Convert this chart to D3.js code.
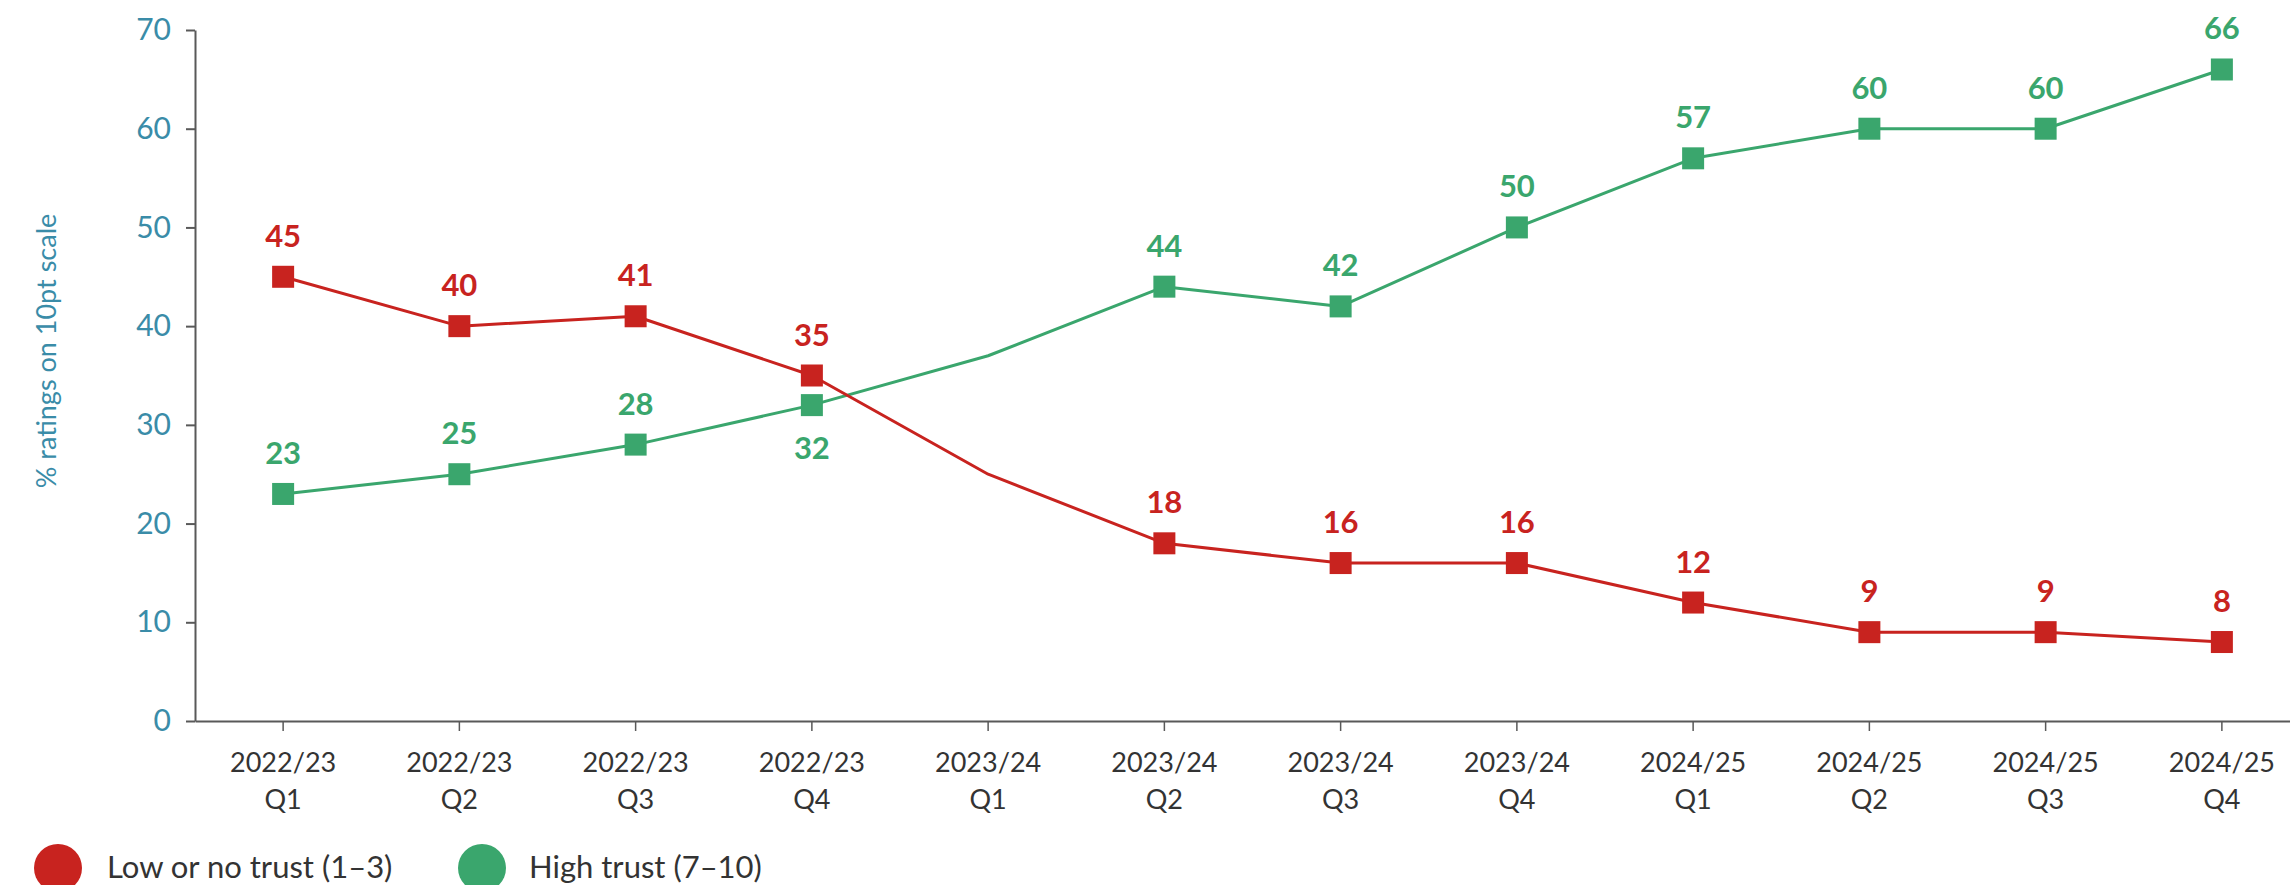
<!DOCTYPE html>
<html>
<head>
<meta charset="utf-8">
<script src="https://cdn.jsdelivr.net/npm/d3@7"></script>
<style>
  html, body { margin: 0; padding: 0; background: #fff; }
  svg { display: block; }
  text { font-family: Lato, "Open Sans", "DejaVu Sans", sans-serif; }
</style>
</head>
<body>
<svg id="chart" width="2290" height="885"></svg>
<script>
// Quarterly periods (financial year / quarter)
const years = ["2022/23","2022/23","2022/23","2022/23","2023/24","2023/24","2023/24","2023/24","2024/25","2024/25","2024/25","2024/25"];
const quarters = ["Q1","Q2","Q3","Q4","Q1","Q2","Q3","Q4","Q1","Q2","Q3","Q4"];

// % ratings on the 10-point scale
const lowTrust  = [45, 40, 41, 35, 25, 18, 16, 16, 12, 9, 9, 8];
const highTrust = [23, 25, 28, 32, 37, 44, 42, 50, 57, 60, 60, 66];

// Quarters drawn with a marker and value label (2023/24 Q1 has neither)
const marked = [true, true, true, true, false, true, true, true, true, true, true, true];

// Where each high-trust label sits relative to its marker
const highLabelSide = ["above","above","above","below","above","above","above","above","above","above","above","above"];

const yTicks = [0, 10, 20, 30, 40, 50, 60, 70];
const seriesNames = ["Low or no trust (1–3)", "High trust (7–10)"];

const RED = "#c8231f";
const GREEN = "#3aa66d";
const TEAL = "#3a8ca8";
const AXIS = "#595959";

const svg = d3.select("#chart");
const categories = years.map((y, i) => i);

const x = d3.scaleBand().domain(categories).range([195, 195 + 176.25 * 12]).padding(0);
const cx = i => x(i) + x.bandwidth() / 2;
const y = d3.scaleLinear().domain([0, 70]).range([721, 30]);

// Y axis
const yAxis = svg.append("g")
  .attr("transform", "translate(195,0)")
  .call(d3.axisLeft(y).tickValues(yTicks).tickSize(9).tickSizeOuter(0).tickPadding(15));
yAxis.select(".domain").attr("stroke", AXIS).attr("stroke-width", 2);
yAxis.selectAll(".tick line").attr("stroke", AXIS).attr("stroke-width", 2);
yAxis.selectAll(".tick text")
  .attr("fill", TEAL)
  .style("font-size", "30px")
  .style("font-weight", 400);

// X axis
const xAxis = svg.append("g")
  .attr("transform", "translate(0,721)")
  .call(d3.axisBottom(x).tickSize(10).tickSizeOuter(0).tickFormat(() => ""));
xAxis.select(".domain").attr("stroke", AXIS).attr("stroke-width", 2);
xAxis.selectAll(".tick line").attr("stroke", AXIS).attr("stroke-width", 1.5);
xAxis.selectAll(".tick text").remove();
xAxis.selectAll(".tick").each(function(d) {
  const t = d3.select(this).append("text")
    .attr("fill", "#333")
    .attr("text-anchor", "middle")
    .style("font-size", "27px")
    .style("font-weight", 400);
  t.append("tspan").attr("x", 0).attr("y", 51).text(years[d]);
  t.append("tspan").attr("x", 0).attr("y", 88).text(quarters[d]);
});

// Y axis title
svg.append("text")
  .attr("transform", "translate(56,351) rotate(-90)")
  .attr("text-anchor", "middle")
  .attr("fill", TEAL)
  .style("font-size", "27px")
  .style("font-weight", 400)
  .text("% ratings on 10pt scale");

const line = d3.line().x((d, i) => cx(i)).y(d => y(d));

function drawSeries(values, color, labelSide) {
  svg.append("path")
    .datum(values)
    .attr("fill", "none")
    .attr("stroke", color)
    .attr("stroke-width", 3)
    .attr("stroke-linejoin", "round")
    .attr("d", line);

  const pts = values.map((v, i) => ({ v, i })).filter(d => marked[d.i]);

  svg.append("g").selectAll("rect")
    .data(pts)
    .join("rect")
    .attr("x", d => cx(d.i) - 11)
    .attr("y", d => y(d.v) - 11)
    .attr("width", 22)
    .attr("height", 22)
    .attr("fill", color);

  svg.append("g").selectAll("text")
    .data(pts)
    .join("text")
    .attr("x", d => cx(d.i))
    .attr("y", d => labelSide(d.i) === "below" ? y(d.v) + 54 : y(d.v) - 30)
    .attr("text-anchor", "middle")
    .attr("fill", color)
    .style("font-size", "31px")
    .style("font-weight", 700)
    .text(d => d.v);
}

drawSeries(highTrust, GREEN, i => highLabelSide[i]);
drawSeries(lowTrust, RED, () => "above");

// Legend
const legendItems = [
  { name: seriesNames[0], color: RED, cx: 58, tx: 107 },
  { name: seriesNames[1], color: GREEN, cx: 482, tx: 529 }
];
const lg = svg.append("g");
lg.selectAll("circle")
  .data(legendItems)
  .join("circle")
  .attr("cx", d => d.cx)
  .attr("cy", 868)
  .attr("r", 24)
  .attr("fill", d => d.color);
lg.selectAll("text")
  .data(legendItems)
  .join("text")
  .attr("x", d => d.tx)
  .attr("y", 878)
  .attr("fill", "#333")
  .style("font-size", "31px")
  .style("font-weight", 400)
  .text(d => d.name);
</script>
</body>
</html>
